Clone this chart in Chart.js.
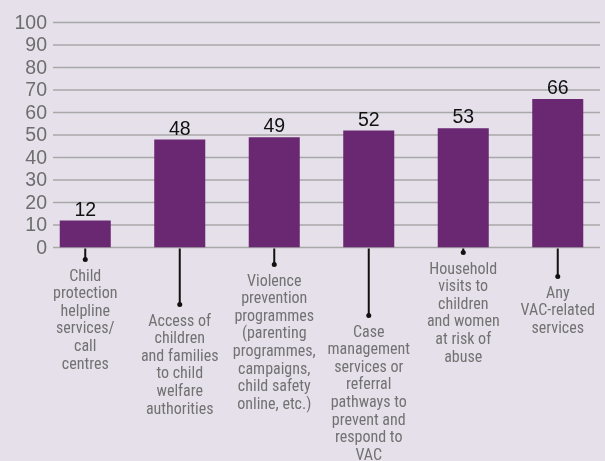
<!DOCTYPE html>
<html lang="en">
<head>
    <meta charset="UTF-8">
    <title>VAC services</title>
    <script src="https://cdn.jsdelivr.net/npm/chart.js@4.4.1/dist/chart.umd.min.js"></script>
    <style>
        body {
            margin: 0;
            background: #e6e0ea;
        }
        #myChart {
            display: block;
        }
    </style>
</head>
<body>
    <canvas id="myChart" width="605" height="461"></canvas>
    <script>
        // data
        const categories = [
            ['Child', 'protection', 'helpline', 'services/', 'call', 'centres'],
            ['Access of', 'children', 'and families', 'to child', 'welfare', 'authorities'],
            ['Violence', 'prevention', 'programmes', '(parenting', 'programmes,', 'campaigns,', 'child safety', 'online, etc.)'],
            ['Case', 'management', 'services or', 'referral', 'pathways to', 'prevent and', 'respond to', 'VAC'],
            ['Household', 'visits to', 'children', 'and women', 'at risk of', 'abuse'],
            ['Any', 'VAC-related', 'services']
        ];
        const values = [12, 48, 49, 52, 53, 66];
        const yTicks = [0, 10, 20, 30, 40, 50, 60, 70, 80, 90, 100];

        // how far each leader line drops below the axis (px)
        const leaderDrop = [12, 57, 17, 68, 5, 29];

        const GRID_LEFT = 53, GRID_RIGHT = 600, TICK_RIGHT = 47;

        // gridlines + y labels drawn by hand so they can sit right of the bars' area
        const gridPlugin = {
            id: 'grid',
            beforeDatasetsDraw(chart) {
                const ctx = chart.ctx;
                const y = chart.scales.y;
                ctx.save();
                ctx.strokeStyle = '#a8a8a8';
                ctx.lineWidth = 1.6;
                ctx.font = '19.5px "Liberation Sans", Arial, sans-serif';
                ctx.fillStyle = '#6e6e6e';
                ctx.textAlign = 'right';
                ctx.textBaseline = 'middle';
                yTicks.forEach(function (t) {
                    const py = y.getPixelForValue(t);
                    ctx.beginPath();
                    ctx.moveTo(GRID_LEFT, py);
                    ctx.lineTo(GRID_RIGHT, py);
                    ctx.stroke();
                    ctx.fillText(String(t), TICK_RIGHT, py + 1);
                });
                ctx.restore();
            }
        };

        // value labels, leaders and category text
        const labelPlugin = {
            id: 'labels',
            afterDatasetsDraw(chart) {
                const ctx = chart.ctx;
                const meta = chart.getDatasetMeta(0);
                const base = chart.scales.y.getPixelForValue(0);
                ctx.save();
                ctx.textAlign = 'center';
                ctx.textBaseline = 'alphabetic';
                meta.data.forEach(function (bar, i) {
                    // value on top
                    ctx.font = '19.5px "Liberation Sans", Arial, sans-serif';
                    ctx.fillStyle = '#111';
                    ctx.fillText(values[i], bar.x, bar.y - 5);

                    // leader line + dot
                    const dotY = base + leaderDrop[i];
                    ctx.beginPath();
                    ctx.moveTo(bar.x, base + 1);
                    ctx.lineTo(bar.x, dotY);
                    ctx.lineWidth = 2;
                    ctx.strokeStyle = '#111';
                    ctx.stroke();
                    ctx.beginPath();
                    ctx.arc(bar.x, dotY, 2.5, 0, Math.PI * 2);
                    ctx.fillStyle = '#111';
                    ctx.fill();

                    // category text
                    ctx.font = '16px "Liberation Sans Narrow", "Roboto Condensed", "DejaVu Sans Condensed", Roboto, sans-serif';
                    ctx.fillStyle = '#727272';
                    categories[i].forEach(function (line, j) {
                        ctx.fillText(line, bar.x, dotY + 21 + j * 17.6);
                    });
                });
                ctx.restore();
            }
        };

        const ctx = document.getElementById('myChart').getContext('2d');
        const myChart = new Chart(ctx, {
            type: 'bar',
            data: {
                labels: categories.map(function (c) { return c.join(' '); }),
                datasets: [{
                    data: values,
                    backgroundColor: '#6a2772',
                    borderWidth: 0,
                    barPercentage: 0.54,
                    categoryPercentage: 1
                }]
            },
            options: {
                responsive: false,
                animation: false,
                devicePixelRatio: 1,
                layout: {
                    padding: { top: 22.5, bottom: 213.5, left: 0, right: 0 }
                },
                plugins: {
                    legend: { display: false },
                    tooltip: { enabled: false }
                },
                scales: {
                    x: {
                        ticks: { display: false },
                        grid: { display: false, drawTicks: false },
                        border: { display: false }
                    },
                    y: {
                        min: 0,
                        max: 100,
                        afterFit: function (scale) { scale.width = 38; },
                        ticks: { display: false, stepSize: 10 },
                        grid: { display: false, drawTicks: false },
                        border: { display: false }
                    }
                }
            },
            plugins: [gridPlugin, labelPlugin]
        });
    </script>
</body>
</html>
